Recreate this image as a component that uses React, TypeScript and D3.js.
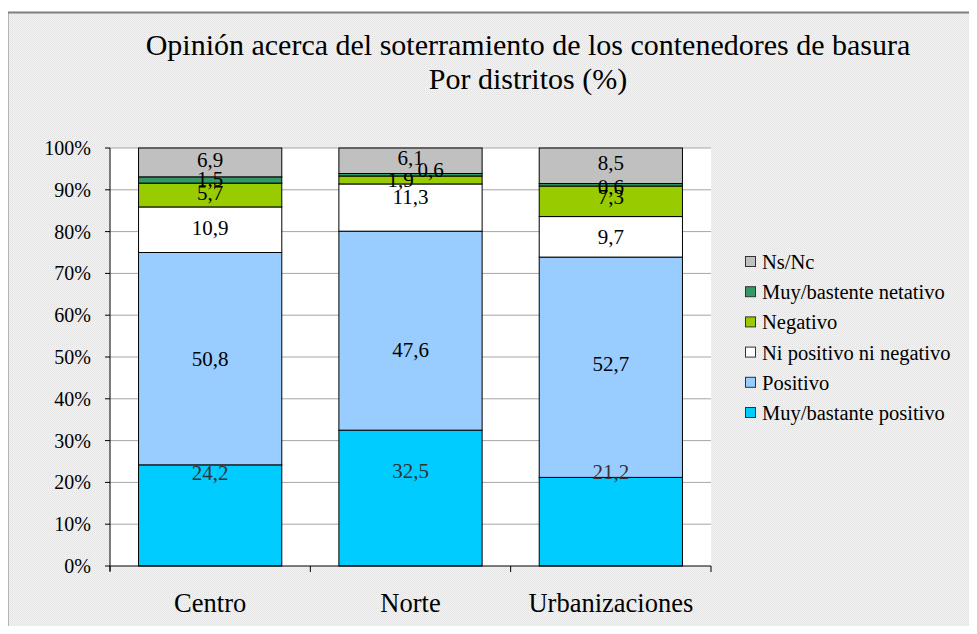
import React from "react";
import * as d3 from "d3";

const categories = ["Centro", "Norte", "Urbanizaciones"];
const seriesNames = [
  "Muy/bastante positivo",
  "Positivo",
  "Ni positivo ni negativo",
  "Negativo",
  "Muy/bastente netativo",
  "Ns/Nc",
];
const muyPositivo = [24.2, 32.5, 21.2];
const positivo = [50.8, 47.6, 52.7];
const niPosNiNeg = [10.9, 11.3, 9.7];
const negativo = [5.7, 1.9, 7.3];
const muyNegativo = [1.5, 0.6, 0.6];
const nsnc = [6.9, 6.1, 8.5];
const yTicks = [0, 10, 20, 30, 40, 50, 60, 70, 80, 90, 100];
const titleLines = [
  "Opinión acerca del soterramiento de los contenedores de basura",
  "Por distritos (%)",
];

const colors = ["#00CCFF", "#99CCFF", "#FFFFFF", "#99CC00", "#339966", "#C0C0C0"];
// label nudges (px) [series][category] to mimic the original placement
const labelNudge = [
  [[0, -42], [0, -27], [0, -50]],
  [[0, 0], [0, 19], [0, -3]],
  [[0, -2], [0, -11], [0, 0]],
  [[0, -2], [-10, 0], [0, -4]],
  [[0, -1], [20, -5], [0, 2]],
  [[0, -2], [0, -3], [0, -3]],
];

const W = 977;
const H = 634;
const F = { fontFamily: "Liberation Serif" };

export default function App() {
  const allSeries = [muyPositivo, positivo, niPosNiNeg, negativo, muyNegativo, nsnc];
  const table = categories.map((c, i) => {
    const row: any = { cat: c };
    seriesNames.forEach((s, j) => (row[s] = allSeries[j][i]));
    return row;
  });
  const stack = d3.stack().keys(seriesNames)(table);

  const left = 110, right = 711, top = 148, bottom = 566;
  const x = d3.scaleBand().domain(categories).range([left, right]).paddingInner(0.285).paddingOuter(0.1425);
  const y = d3.scaleLinear().domain([0, 100]).range([bottom, top]);
  const step = (right - left) / categories.length;

  return (
    <svg width={W} height={H} style={{ display: "block", margin: "-8px" }}>
      <defs>
        <pattern id="bgp" width="2" height="2" patternUnits="userSpaceOnUse">
          <rect width="2" height="2" fill="#f3f3f3" />
          <rect width="1" height="1" fill="#e2e2e2" />
          <rect x="1" y="1" width="1" height="1" fill="#e8e8e8" />
        </pattern>
      </defs>
      <rect x={0} y={0} width={W} height={H} fill="#ffffff" />
      <rect x={7.5} y={12.5} width={W + 10} height={H + 10} fill="url(#bgp)" stroke="#7f7f7f" strokeWidth={2} />
      {titleLines.map((t, i) => (
        <text key={i} x={528} y={55 + i * 34} textAnchor="middle" fontSize={30} fill="#000" style={F}>
          {t}
        </text>
      ))}
      <rect x={left} y={top} width={right - left} height={bottom - top} fill="#fff" />
      {yTicks.map((t) => (
        <g key={t}>
          {t > 0 && <line x1={left} x2={right} y1={y(t)} y2={y(t)} stroke="#a6a6a6" strokeWidth={1} />}
          <line x1={left - 5} x2={left} y1={y(t)} y2={y(t)} stroke="#000" />
          <text x={91} y={y(t) + 7} textAnchor="end" fontSize={20} fill="#000" style={F}>
            {t}%
          </text>
        </g>
      ))}
      {stack.map((s, si) =>
        s.map((d, ci) => (
          <rect
            key={si + "-" + ci}
            x={x(categories[ci])}
            y={y(d[1])}
            width={x.bandwidth()}
            height={y(d[0]) - y(d[1])}
            fill={colors[si]}
            stroke="#000"
            strokeWidth={1}
          />
        ))
      )}
      {stack.map((s, si) =>
        s.map((d, ci) => (
          <text
            key={"l" + si + "-" + ci}
            x={(x(categories[ci]) as number) + x.bandwidth() / 2 + labelNudge[si][ci][0]}
            y={(y(d[0]) + y(d[1])) / 2 + 7 + labelNudge[si][ci][1]}
            textAnchor="middle"
            fontSize={21}
            fill={si === 0 ? "#333" : "#000"}
            style={F}
          >
            {String(allSeries[si][ci]).replace(".", ",")}
          </text>
        ))
      )}
      <line x1={left} x2={left} y1={top} y2={bottom + 5} stroke="#000" />
      <line x1={left} x2={right} y1={bottom} y2={bottom} stroke="#000" />
      {d3.range(categories.length + 1).map((i) => (
        <line key={i} x1={left + i * step} x2={left + i * step} y1={bottom} y2={bottom + 6} stroke="#000" />
      ))}
      {categories.map((c) => (
        <text key={c} x={(x(c) as number) + x.bandwidth() / 2} y={612} textAnchor="middle" fontSize={26.5} fill="#000" style={F}>
          {c}
        </text>
      ))}
      {seriesNames
        .slice()
        .reverse()
        .map((s, i) => {
          const ci = seriesNames.length - 1 - i;
          return (
            <g key={s} transform={`translate(745, ${262 + i * 30.2})`}>
              <rect x={0.5} y={-5.5} width={10} height={10} fill={colors[ci]} stroke="#333" />
              <text x={17} y={7} fontSize={20.5} fill="#000" style={F}>
                {s}
              </text>
            </g>
          );
        })}
    </svg>
  );
}
